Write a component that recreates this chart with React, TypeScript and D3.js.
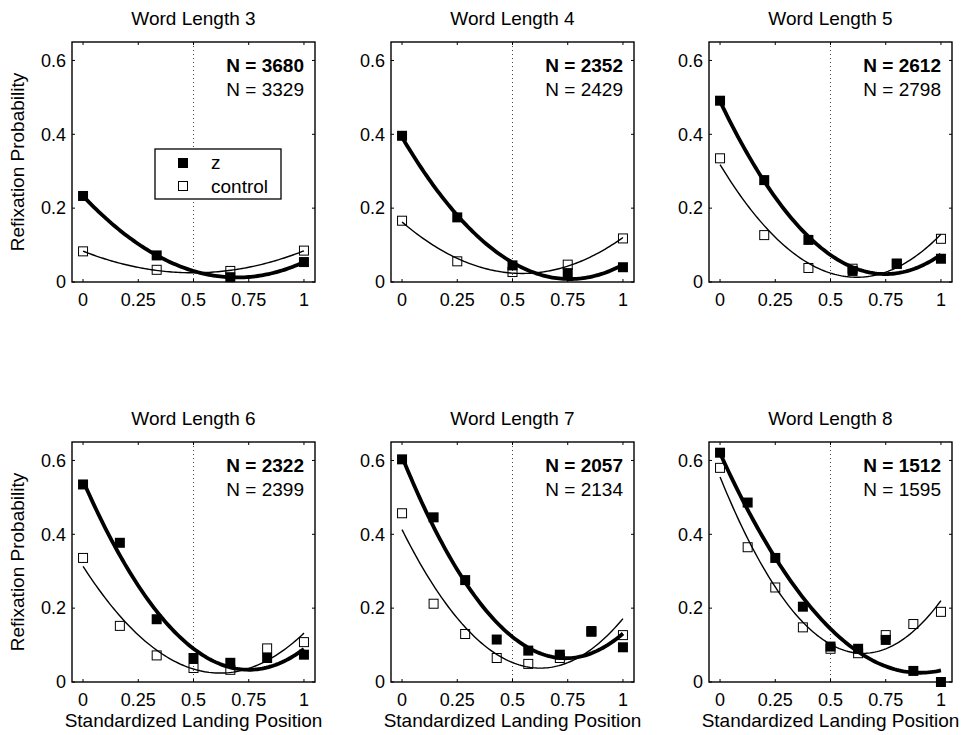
import React from 'react';
import * as d3 from 'd3';

// Word lengths shown, one panel each
const wordLengths = [3, 4, 5, 6, 7, 8];
// Number of observations per condition
const zCounts = [3680, 2352, 2612, 2322, 2057, 1512];
const controlCounts = [3329, 2429, 2798, 2399, 2134, 1595];

// Refixation probability per landing letter (0..L), z condition
const zLen3 = [0.233, 0.072, 0.013, 0.054];
const zLen4 = [0.396, 0.175, 0.045, 0.024, 0.040];
const zLen5 = [0.491, 0.276, 0.114, 0.030, 0.049, 0.063];
const zLen6 = [0.535, 0.377, 0.170, 0.065, 0.052, 0.065, 0.074];
const zLen7 = [0.603, 0.446, 0.276, 0.115, 0.085, 0.074, 0.136, 0.094];
const zLen8 = [0.621, 0.486, 0.336, 0.204, 0.096, 0.090, 0.114, 0.030, 0.0];

// Refixation probability per landing letter (0..L), control condition
const controlLen3 = [0.083, 0.033, 0.030, 0.085];
const controlLen4 = [0.166, 0.056, 0.027, 0.047, 0.118];
const controlLen5 = [0.335, 0.127, 0.038, 0.036, 0.050, 0.117];
const controlLen6 = [0.336, 0.152, 0.072, 0.038, 0.033, 0.091, 0.108];
const controlLen7 = [0.457, 0.212, 0.130, 0.065, 0.049, 0.065, 0.138, 0.127];
const controlLen8 = [0.580, 0.365, 0.256, 0.148, 0.090, 0.078, 0.127, 0.157, 0.190];

const zSeries = [zLen3, zLen4, zLen5, zLen6, zLen7, zLen8];
const controlSeries = [controlLen3, controlLen4, controlLen5, controlLen6, controlLen7, controlLen8];

const xTicks = [0, 0.25, 0.5, 0.75, 1];
const xTickLabels = ['0', '0.25', '0.5', '0.75', '1'];
const yTicks = [0, 0.2, 0.4, 0.6];
const yTickLabels = ['0', '0.2', '0.4', '0.6'];
const legendLabels = ['z', 'control'];

const FONT = "'Liberation Sans', Arial, Helvetica, sans-serif";
const FS = 19;
const TICK_FS = 18;

const W = 968;
const H = 735;
const PW = 243;
const PH = 240;
const panelLefts = [72, 391, 709];
const panelTops = [42, 442];

// Least-squares quadratic fit y = a + b x + c x^2
function quadFit(xs: number[], ys: number[]): [number, number, number] {
  const S = [0, 0, 0, 0, 0];
  const T = [0, 0, 0];
  xs.forEach((x, i) => {
    for (let k = 0; k < 5; k++) S[k] += Math.pow(x, k);
    for (let k = 0; k < 3; k++) T[k] += Math.pow(x, k) * ys[i];
  });
  const M = [
    [S[0], S[1], S[2], T[0]],
    [S[1], S[2], S[3], T[1]],
    [S[2], S[3], S[4], T[2]],
  ];
  for (let c = 0; c < 3; c++) {
    let p = c;
    for (let r = c + 1; r < 3; r++) if (Math.abs(M[r][c]) > Math.abs(M[p][c])) p = r;
    [M[c], M[p]] = [M[p], M[c]];
    for (let r = 0; r < 3; r++) {
      if (r === c) continue;
      const f = M[r][c] / M[c][c];
      for (let k = c; k < 4; k++) M[r][k] -= f * M[c][k];
    }
  }
  return [M[0][3] / M[0][0], M[1][3] / M[1][1], M[2][3] / M[2][2]];
}

const sampleX = d3.range(0, 1.0001, 0.01);

function Panel({ idx }: { idx: number }) {
  const L = wordLengths[idx];
  const col = idx % 3;
  const row = Math.floor(idx / 3);
  const left = panelLefts[col];
  const top = panelTops[row];
  const x = d3.scaleLinear().domain([-0.05, 1.05]).range([0, PW]);
  const y = d3.scaleLinear().domain([0, 0.65]).range([PH, 0]);
  const positions = d3.range(L + 1).map((i) => i / L);
  const zVals = zSeries[idx];
  const cVals = controlSeries[idx];

  const line = d3
    .line<number[]>()
    .x((d) => x(d[0]))
    .y((d) => y(d[1]));
  const fitPath = (vals: number[]) => {
    const [a, b, c] = quadFit(positions, vals);
    return line(sampleX.map((t) => [t, a + b * t + c * t * t])) || '';
  };

  const tl = 3;
  const zs = 10;
  const cs = 9;

  return (
    <g transform={`translate(${left},${top})`}>
      <text x={PW / 2} y={-17} textAnchor="middle" fontSize={FS} fontFamily={FONT}>
        {`Word Length ${L}`}
      </text>
      {/* midpoint reference */}
      <line x1={x(0.5)} x2={x(0.5)} y1={0} y2={PH} stroke="#444" strokeWidth={1} strokeDasharray="1,3" />
      {/* fitted curves */}
      <path d={fitPath(cVals)} fill="none" stroke="#000" strokeWidth={1.4} />
      <path d={fitPath(zVals)} fill="none" stroke="#000" strokeWidth={3.8} />
      {/* control markers */}
      {cVals.map((v, i) => (
        <rect key={`c${i}`} x={x(positions[i]) - cs / 2} y={y(v) - cs / 2} width={cs} height={cs} fill="none" stroke="#000" strokeWidth={1} />
      ))}
      {/* z markers */}
      {zVals.map((v, i) => (
        <rect key={`z${i}`} x={x(positions[i]) - zs / 2} y={y(v) - zs / 2} width={zs} height={zs} fill="#000" />
      ))}
      {/* ticks */}
      {xTicks.map((t, i) => (
        <g key={`xt${i}`}>
          <line x1={x(t)} x2={x(t)} y1={PH} y2={PH - tl} stroke="#000" strokeWidth={1} />
          <line x1={x(t)} x2={x(t)} y1={0} y2={tl} stroke="#000" strokeWidth={1} />
          <text x={x(t)} y={PH + 24} textAnchor="middle" fontSize={TICK_FS} fontFamily={FONT}>
            {xTickLabels[i]}
          </text>
        </g>
      ))}
      {yTicks.map((t, i) => (
        <g key={`yt${i}`}>
          <line x1={0} x2={tl} y1={y(t)} y2={y(t)} stroke="#000" strokeWidth={1} />
          <line x1={PW} x2={PW - tl} y1={y(t)} y2={y(t)} stroke="#000" strokeWidth={1} />
          <text x={-6} y={y(t)} dy="0.35em" textAnchor="end" fontSize={TICK_FS} fontFamily={FONT}>
            {yTickLabels[i]}
          </text>
        </g>
      ))}
      <rect x={0} y={0} width={PW} height={PH} fill="none" stroke="#000" strokeWidth={1.4} />
      {/* sample sizes */}
      <text x={PW - 11} y={30} textAnchor="end" fontSize={FS} fontWeight="bold" fontFamily={FONT}>
        {`N = ${zCounts[idx]}`}
      </text>
      <text x={PW - 11} y={54} textAnchor="end" fontSize={FS} fontFamily={FONT}>
        {`N = ${controlCounts[idx]}`}
      </text>
      {col === 0 && (
        <text
          transform={`translate(${-48},${PH / 2}) rotate(-90)`}
          textAnchor="middle"
          fontSize={FS}
          fontFamily={FONT}
        >
          Refixation Probability
        </text>
      )}
      {row === 1 && (
        <text x={PW / 2} y={PH + 45} textAnchor="middle" fontSize={FS} fontFamily={FONT}>
          Standardized Landing Position
        </text>
      )}
      {idx === 0 && (
        <g transform="translate(83,107)">
          <rect x={0} y={0} width={126} height={50} fill="#fff" stroke="#000" strokeWidth={1.3} />
          <rect x={23} y={9} width={10} height={10} fill="#000" />
          <rect x={23.5} y={32.5} width={9} height={9} fill="none" stroke="#000" strokeWidth={1} />
          <text x={56} y={20} fontSize={FS} fontFamily={FONT}>{legendLabels[0]}</text>
          <text x={56} y={44} fontSize={FS} fontFamily={FONT}>{legendLabels[1]}</text>
        </g>
      )}
    </g>
  );
}

export default function App() {
  return (
    <svg
      width={W}
      height={H}
      viewBox={`0 0 ${W} ${H}`}
      style={{ position: 'absolute', left: 0, top: 0, background: '#fff' }}
    >
      <rect x={0} y={0} width={W} height={H} fill="#fff" />
      {wordLengths.map((_, i) => (
        <Panel key={i} idx={i} />
      ))}
    </svg>
  );
}
